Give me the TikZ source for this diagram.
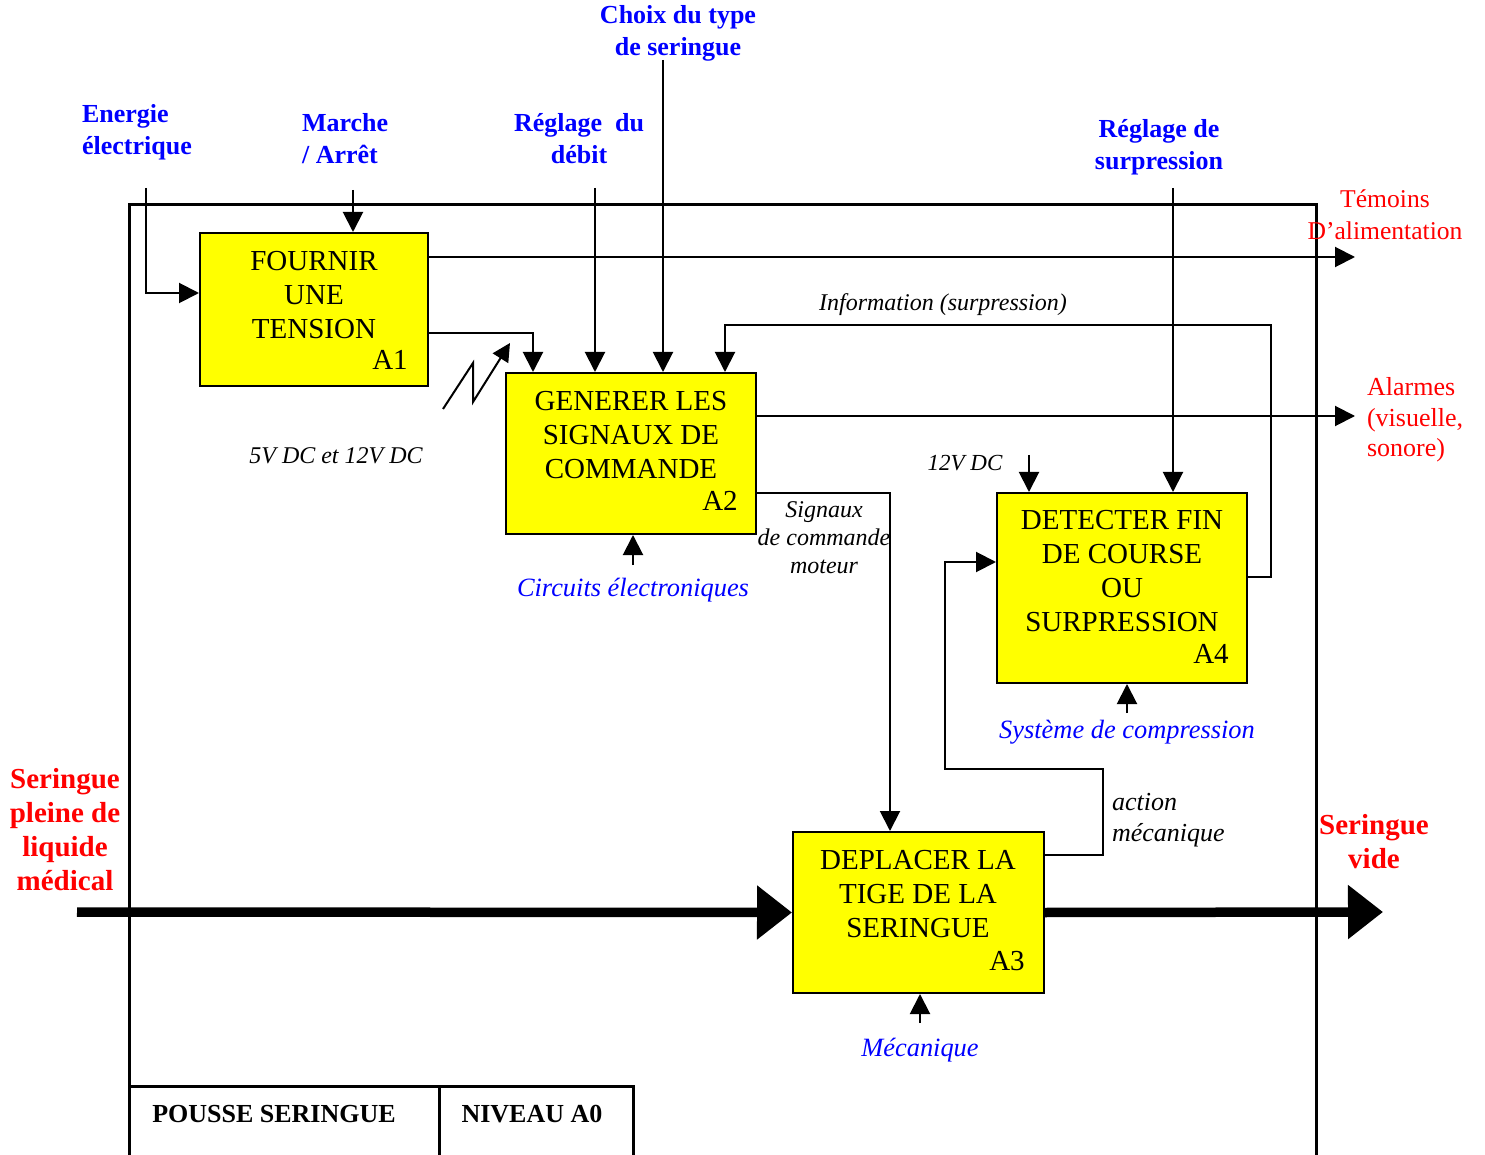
\documentclass[tikz,border=0pt]{standalone}
\usepackage{fontspec}
\setmainfont{Liberation Serif}
\usetikzlibrary{arrows.meta}
\definecolor{boxyellow}{RGB}{255,255,0}

\tikzset{
  fct/.style={draw, line width=1pt, fill=boxyellow, inner sep=0pt},
  fcttext/.style={align=center, font=\fontsize{14.5}{17}\selectfont},
  fctnum/.style={font=\fontsize{14.5}{17}\selectfont},
  flow/.style={line width=1pt, -{Triangle[length=10pt,width=10pt]}},
  matter/.style={line width=4.75pt, -{Triangle[length=17.5pt,width=26pt]}},
  ctrl/.style={text=blue, font=\bfseries\fontsize{13}{16}\selectfont},
  mech/.style={text=blue, font=\itshape\fontsize{13.2}{16}\selectfont},
  outlbl/.style={text=red, font=\fontsize{12.8}{16}\selectfont},
  matlbl/.style={text=red, align=center, font=\bfseries\fontsize{14.5}{17}\selectfont},
  note/.style={font=\itshape\fontsize{12}{14}\selectfont},
}

\begin{document}
\begin{tikzpicture}[x=0.5pt, y=-0.5pt]
  \useasboundingbox (0,0) rectangle (1485,1155);
  % Frame and title block
  \draw[line width=1.5pt] (129,1155) |- (1316,205) -- (1316,1155);
  \draw[line width=1.5pt] (129,1086) -| (633,1155);
  \draw[line width=1.5pt] (439,1086) -- (439,1155);
  \node[font=\bfseries\fontsize{13}{16}\selectfont] (titre) at (274,1114) {POUSSE SERINGUE};
  \node[font=\bfseries\fontsize{13}{16}\selectfont] (niveau) at (532,1114) {NIVEAU A0};

  % Function boxes
  \node[fct, minimum width=114pt, minimum height=76.5pt] (a1) at (314,309.5) {};
  \node[fct, minimum width=125pt, minimum height=80.5pt] (a2) at (631,453.5) {};
  \node[fct, minimum width=125.5pt, minimum height=80.5pt] (a3) at (918.5,912.5) {};
  \node[fct, minimum width=125pt, minimum height=95pt] (a4) at (1122,588) {};
  \node[fcttext] (a1t) at (314,295) {FOURNIR\\UNE\\TENSION};
  \node[fcttext] (a2t) at (631,435) {GENERER LES\\SIGNAUX DE\\COMMANDE};
  \node[fcttext] (a3t) at (918,894) {DEPLACER LA\\TIGE DE LA\\SERINGUE};
  \node[fcttext] (a4t) at (1122,571) {DETECTER FIN\\DE COURSE\\OU\\SURPRESSION};
  \foreach \n/\x/\y in {1/390/360, 2/720/501, 3/1007/961, 4/1211/654}
    \node[fctnum] (a\n n) at (\x,\y) {A\n};

  % Control inputs
  \coordinate (e1) at (146,188);
  \coordinate (e2) at (353,190);
  \coordinate (e3) at (595,188);
  \coordinate (e4) at (663,60);
  \coordinate (e5) at (1173,188);
  \coordinate (e6) at (1029,455);
  \node[ctrl, anchor=west, align=left] (nrj) at (75,132) {Energie\\électrique};
  \node[ctrl, anchor=west, align=left] (marche) at (295,139) {Marche\\/ Arrêt};
  \node[ctrl, align=center] (debit) at (579,139) {Réglage~ du\\débit};
  \node[ctrl, align=center] (choix) at (678,33) {Choix du type\\de seringue};
  \node[ctrl, align=center] (surp) at (1159,147) {Réglage de\\surpression};
  \node[note, font=\itshape\fontsize{11.5}{14}\selectfont] (v12) at (965,463) {12V DC};
  \draw[flow] (e1) |- ([yshift=8.25pt]a1.west);
  \draw[flow] (e2) -- (e2 |- a1.north);
  \draw[flow] (e3) -- (e3 |- a2.north);
  \draw[flow] (e4) -- (e4 |- a2.north);
  \draw[flow] (e5) -- (e5 |- a4.north);
  \draw[flow] (e6) -- (e6 |- a4.north);

  % Outputs
  \coordinate (o1) at (1355,257);
  \coordinate (o2) at (1355,416);
  \node[outlbl, align=center] (temoins) at (1385,215) {Témoins\\D’alimentation};
  \node[outlbl, anchor=west, align=left, font=\fontsize{13}{15.25}\selectfont] (alarmes) at (1360,420) {Alarmes\\(visuelle,\\sonore)};
  \draw[flow] (a1.east |- o1) -- (o1);
  \draw[flow] (a2.east |- o2) -- (o2);

  % Internal flows
  \draw[flow] ([yshift=-11.75pt]a1.east) -| ([xshift=14pt]a2.north west);
  \draw[flow] ([yshift=5.5pt]a4.east) -| (1271,325) -| ([xshift=-16pt]a2.north east);
  \node[note] (info) at (943,305) {Information (surpression)};
  \draw[flow] ([yshift=-19.75pt]a2.east) -| ([xshift=-14.25pt]a3.north);
  \node[note, align=center, font=\itshape\fontsize{12}{14}\selectfont] (signaux) at (824,538) {Signaux\\de commande\\moteur};
  \draw[flow] ([yshift=28.75pt]a3.east) -| (1103,769) -- (945,769) |- ([yshift=13pt]a4.west);
  \node[note, anchor=west, align=left, font=\itshape\fontsize{13}{15.5}\selectfont] (action) at (1105,820) {action\\mécanique};
  \draw[line width=1pt, -{Triangle[length=9pt,width=9pt]}] (443,409) -- (473,363) -- (473,402) -- (510,343);
  \node[note] (tension) at (336,456) {5V DC et 12V DC};

  % Mechanisms
  \coordinate (m2) at (633,565);
  \coordinate (m3) at (920,1023);
  \coordinate (m4) at (1127,713);
  \draw[flow] (m2) -- (m2 |- a2.south);
  \draw[flow] (m3) -- (m3 |- a3.south);
  \draw[flow] (m4) -- (m4 |- a4.south);
  \node[mech] (circ) at (633,590) {Circuits électroniques};
  \node[mech] (comp) at (1127,732) {Système de compression};
  \node[mech] (meca) at (920,1050) {Mécanique};

  % Matter flow
  \coordinate (in) at (77,912);
  \coordinate (out) at (1383,912);
  \draw[matter] (in) -- (a3.west);
  \draw[matter] (a3.east) -- (out);
  \node[matlbl] (pleine) at (65,830) {Seringue\\pleine de\\liquide\\médical};
  \node[matlbl] (vide) at (1374,842) {Seringue\\vide};
\end{tikzpicture}
\end{document}
